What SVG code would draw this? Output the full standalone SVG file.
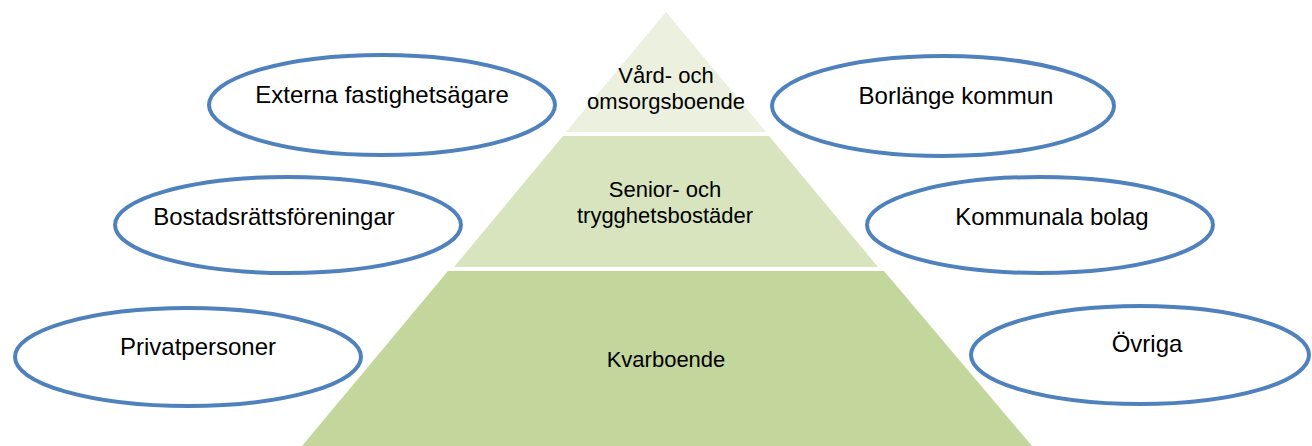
<svg xmlns="http://www.w3.org/2000/svg" width="1312" height="446" viewBox="0 0 1312 446">
  <style>
    .tier text { font-family: "Liberation Sans", Arial, sans-serif; font-size: 22px; fill: #000; text-anchor: middle; }
    .actor ellipse { fill: #fff; stroke: #4F81BD; stroke-width: 4; }
    .actor text { font-family: "Liberation Sans", Arial, sans-serif; font-size: 24px; fill: #000; text-anchor: middle; }
  </style>
  <rect width="1312" height="446" fill="#fff"/>

  <!-- Pyramid tiers -->
  <g id="tier-vard" class="tier">
    <polygon points="666,12 766,132 566,132" fill="#EBF1DE"/>
    <text x="666" y="83">Vård- och</text>
    <text x="666" y="109">omsorgsboende</text>
  </g>
  <g id="tier-senior" class="tier">
    <polygon points="563,136 769,136 878,267 454,267" fill="#D7E4BD"/>
    <text x="665" y="197">Senior- och</text>
    <text x="665" y="223">trygghetsbostäder</text>
  </g>
  <g id="tier-kvarboende" class="tier">
    <polygon points="448,271 884,271 1032,446 302,446" fill="#C3D69B"/>
    <text x="666" y="367">Kvarboende</text>
  </g>

  <!-- Actors, left side -->
  <g id="externa" class="actor">
    <ellipse cx="382" cy="105" rx="173" ry="50"/>
    <text x="382" y="103">Externa fastighetsägare</text>
  </g>
  <g id="bostadsratt" class="actor">
    <ellipse cx="288" cy="225" rx="173" ry="48"/>
    <text x="274" y="225">Bostadsrättsföreningar</text>
  </g>
  <g id="privatpersoner" class="actor">
    <ellipse cx="188" cy="357" rx="173" ry="49"/>
    <text x="198" y="355">Privatpersoner</text>
  </g>

  <!-- Actors, right side -->
  <g id="borlange" class="actor">
    <ellipse cx="943" cy="106" rx="171" ry="50"/>
    <text x="956" y="104">Borlänge kommun</text>
  </g>
  <g id="kommunala" class="actor">
    <ellipse cx="1040" cy="225" rx="173" ry="48"/>
    <text x="1052" y="225">Kommunala bolag</text>
  </g>
  <g id="ovriga" class="actor">
    <ellipse cx="1140" cy="355" rx="169" ry="49"/>
    <text x="1147" y="352">Övriga</text>
  </g>

  <!-- No connectors in this diagram -->
  <g id="connectors"/>
</svg>
